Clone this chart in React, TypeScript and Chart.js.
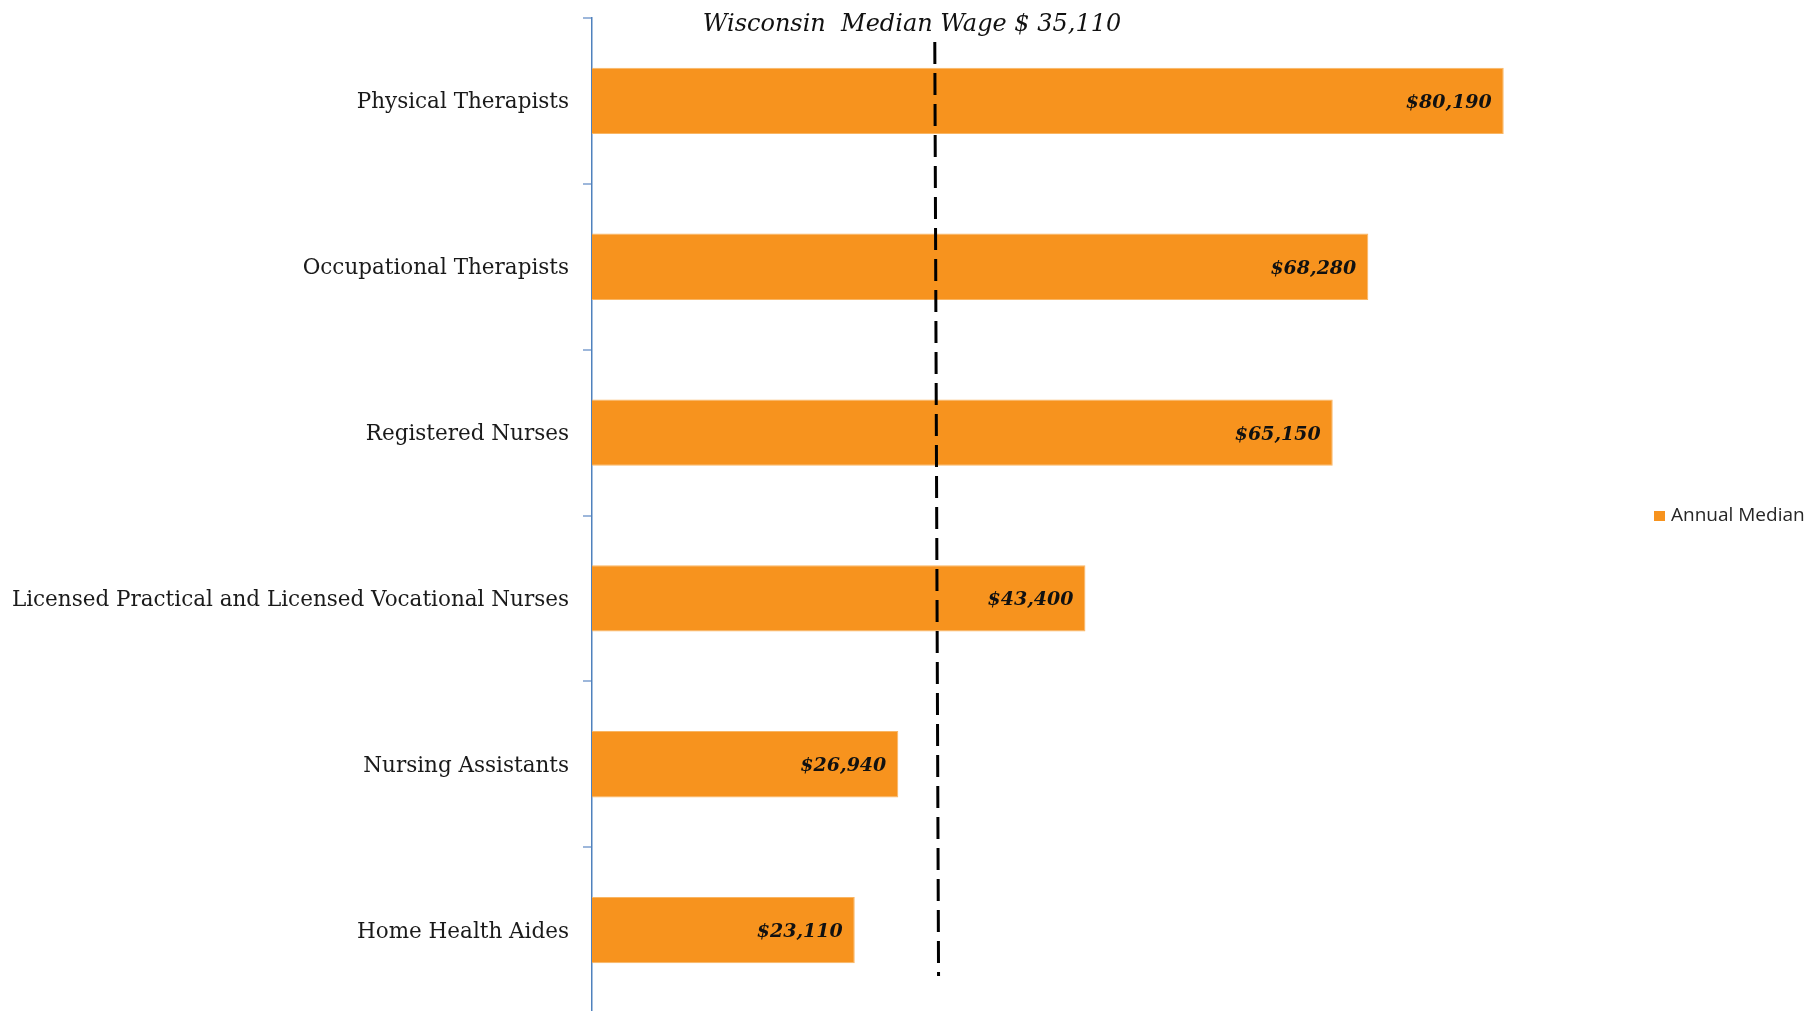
import React, { useEffect, useRef } from "react";
import { Chart, registerables } from "chart.js";

Chart.register(...registerables);

const categories = [
  "Physical Therapists",
  "Occupational Therapists",
  "Registered Nurses",
  "Licensed Practical and Licensed Vocational Nurses",
  "Nursing Assistants",
  "Home Health Aides",
];
const annualMedian = [80190, 68280, 65150, 43400, 26940, 23110];
const valueLabels = ["$80,190", "$68,280", "$65,150", "$43,400", "$26,940", "$23,110"];
const seriesName = "Annual Median";
const titleText = "Wisconsin  Median Wage $ 35,110";
// dashed reference line position as drawn in the picture (top / bottom end)
const medianLineTop = 30150;
const medianLineBottom = 30480;

const ORANGE = "#F7931E";

export default function App() {
  const ref = useRef<HTMLCanvasElement | null>(null);
  useEffect(() => {
    document.body.style.margin = "0";
    const canvas = ref.current!;
    const plugin = {
      id: "custom",
      afterDatasetsDraw(chart: any) {
        const ctx = chart.ctx;
        const x = chart.scales.x;
        const meta = chart.getDatasetMeta(0);
        ctx.save();
        // value labels
        ctx.font = "italic bold 19px 'DejaVu Serif'";
        ctx.fillStyle = "#111";
        ctx.textAlign = "right";
        ctx.textBaseline = "middle";
        meta.data.forEach((bar: any, i: number) => {
          ctx.fillText(valueLabels[i], bar.x - 12, bar.y + 2);
        });
        // dashed line
        ctx.strokeStyle = "#000";
        ctx.lineWidth = 3;
        ctx.setLineDash([22, 9]);
        ctx.beginPath();
        ctx.moveTo(x.getPixelForValue(medianLineTop), 42);
        ctx.lineTo(x.getPixelForValue(medianLineBottom), 976);
        ctx.stroke();
        ctx.setLineDash([]);
        // title
        ctx.font = "italic 24px 'DejaVu Serif'";
        ctx.textAlign = "center";
        ctx.textBaseline = "middle";
        ctx.fillStyle = "#111";
        ctx.fillText(titleText, 912, 25);
        // legend
        ctx.fillStyle = ORANGE;
        ctx.fillRect(1654, 511, 11, 10);
        ctx.font = "19px 'Open Sans'";
        ctx.fillStyle = "#262626";
        ctx.textAlign = "left";
        ctx.fillText(seriesName, 1671, 516);
        ctx.restore();
      },
    };
    const chart = new Chart(canvas, {
      type: "bar",
      data: {
        labels: categories,
        datasets: [
          {
            label: seriesName,
            data: annualMedian,
            backgroundColor: ORANGE,
            borderColor: "#F9B664",
            borderWidth: 1,
            categoryPercentage: 1,
            barPercentage: 0.4,
          },
        ],
      },
      options: {
        indexAxis: "y",
        animation: false,
        responsive: false,
        maintainAspectRatio: false,
        layout: { padding: { top: 18, right: 168, bottom: 0, left: 0 } },
        plugins: {
          legend: { display: false },
          title: { display: false },
          tooltip: { enabled: false },
        },
        scales: {
          x: {
            display: false,
            min: 0,
            max: 92000,
          },
          y: {
            offset: true,
            grid: {
              offset: true,
              drawOnChartArea: false,
              drawTicks: true,
              tickLength: 9,
              color: "#9DB7DB",
              lineWidth: 2,
            },
            border: { display: true, color: "#4F81BD", width: 1.5 },
            ticks: {
              font: { family: "'DejaVu Serif'", size: 21.5 },
              color: "#1a1a1a",
              padding: 14,
              labelOffset: 2,
            },
            afterFit(scale: any) {
              scale.width = 592;
              scale.paddingTop = 0;
              scale.paddingBottom = 0;
            },
          },
        },
      },
      plugins: [plugin],
    });
    return () => chart.destroy();
  }, []);
  return (
    <div style={{ position: "fixed", left: 0, top: 0, width: 1806, height: 1011, overflow: "hidden", background: "#fff" }}>
      <canvas ref={ref} width={1806} height={1013} style={{ display: "block" }} />
    </div>
  );
}
